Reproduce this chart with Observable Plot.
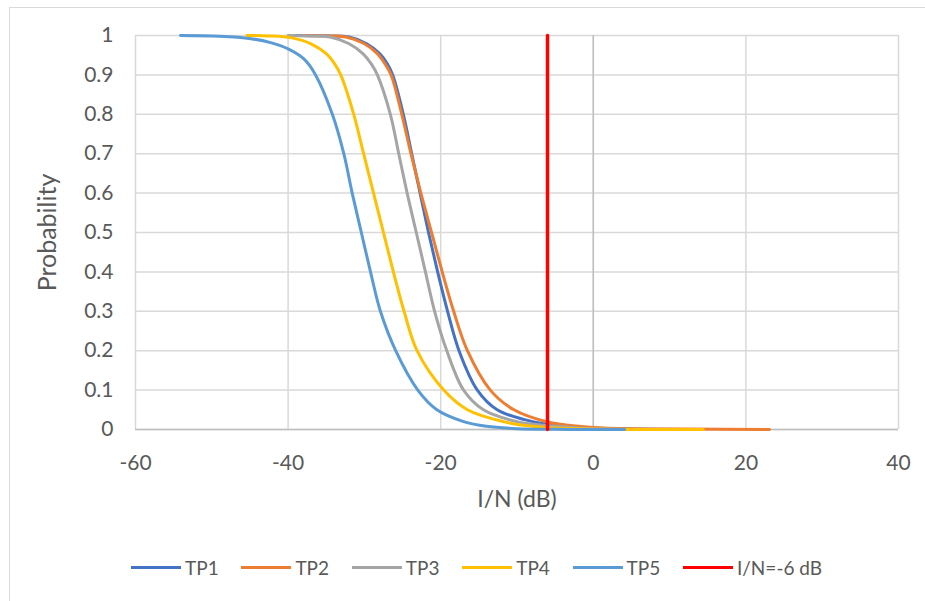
<!DOCTYPE html>
<html>
<head>
<meta charset="utf-8">
<script src="https://cdn.jsdelivr.net/npm/d3@7"></script>
<script src="https://cdn.jsdelivr.net/npm/@observablehq/plot@0.6"></script>
<style>
  html, body { margin: 0; padding: 0; background: #fff; }
  #wrap { position: relative; width: 925px; height: 601px; overflow: hidden; font-family: Lato, "Open Sans", sans-serif; }
  #frame { position: absolute; left: 9px; top: 7px; width: 930px; height: 620px; border-left: 1.5px solid #D9D9D9; border-top: 1.5px solid #D9D9D9; box-sizing: border-box; }
  #chart { position: absolute; left: 0; top: 0; }
  #legend { position: absolute; left: 131px; top: 556px; display: flex; align-items: center; color: #595959; font-size: 19px; white-space: nowrap; }
  .item { display: flex; align-items: center; width: 110.4px; flex: none; }
  .item:last-child { width: auto; }
  .swatch { width: 50px; height: 3px; margin-right: 4px; flex: none; }
</style>
</head>
<body>
<div id="wrap">
  <div id="frame"></div>
  <div id="chart"></div>
  <div id="legend"></div>
</div>
<script>
// I/N (dB) and probability readings per series
const tp1X = [-39, -34.5, -32, -29.7, -28.0, -27.0, -26.3, -24.9, -23.8, -22.7, -21.6, -20.4, -19.1, -17.6, -15.2, -12.6, -9, -6, -3, 0, 5, 12];
const tp1Y = [1, 0.999, 0.996, 0.979, 0.954, 0.928, 0.9, 0.8, 0.7, 0.6, 0.5, 0.4, 0.3, 0.2, 0.1, 0.05, 0.025, 0.013, 0.007, 0.003, 0.001, 0];

const tp2X = [-38, -34.8, -32.4, -30.0, -28.3, -27.3, -26.5, -25.1, -23.9, -22.6, -21.2, -19.8, -18.3, -16.5, -13.5, -10.4, -6, -3, 0, 5, 12, 23.1];
const tp2Y = [1, 0.999, 0.996, 0.979, 0.954, 0.928, 0.9, 0.8, 0.7, 0.6, 0.5, 0.4, 0.3, 0.2, 0.1, 0.05, 0.019, 0.01, 0.005, 0.002, 0.001, 0];

const tp3X = [-40, -37, -34.5, -32.0, -30.2, -29.1, -28.3, -26.6, -25.5, -24.4, -23.2, -22.0, -20.8, -19.2, -17.0, -14.4, -10, -6, -2, 2, 10];
const tp3Y = [1, 0.999, 0.996, 0.979, 0.954, 0.928, 0.9, 0.8, 0.7, 0.6, 0.5, 0.4, 0.3, 0.2, 0.1, 0.05, 0.02, 0.01, 0.004, 0.001, 0];

const tp4X = [-45.4, -42.5, -39.5, -37.0, -35.0, -33.9, -33.1, -31.4, -30.1, -28.8, -27.5, -26.2, -24.8, -23.1, -19.6, -16.5, -11.8, -8, -4, 0, 4, 14.4];
const tp4Y = [1, 0.999, 0.994, 0.979, 0.954, 0.928, 0.9, 0.8, 0.7, 0.6, 0.5, 0.4, 0.3, 0.2, 0.1, 0.05, 0.02, 0.008, 0.003, 0.001, 0, 0];

const tp5X = [-54.1, -49, -44.9, -42.3, -40, -37.9, -36.4, -34.2, -32.7, -31.6, -30.4, -29.2, -27.9, -25.9, -23.0, -20.5, -17, -14, -10, -5, 0, 4.1];
const tp5Y = [1, 0.998, 0.992, 0.982, 0.966, 0.94, 0.9, 0.8, 0.7, 0.6, 0.5, 0.4, 0.3, 0.2, 0.1, 0.05, 0.02, 0.008, 0.002, 0.0005, 0, 0];

const thresholdX = [-6, -6];
const thresholdY = [0, 1];

const seriesNames = ["TP1", "TP2", "TP3", "TP4", "TP5", "I/N=-6 dB"];
const seriesColors = ["#4472C4", "#ED7D31", "#A5A5A5", "#FFC000", "#5B9BD5", "#FF0000"];

const xTicks = [-60, -40, -20, 0, 20, 40];
const yTicks = [0, 0.1, 0.2, 0.3, 0.4, 0.5, 0.6, 0.7, 0.8, 0.9, 1];

const xs = [tp1X, tp2X, tp3X, tp4X, tp5X];
const ys = [tp1Y, tp2Y, tp3Y, tp4Y, tp5Y];
const rows = [];
xs.forEach((arr, i) => arr.forEach((x, j) => rows.push({series: seriesNames[i], x, y: ys[i][j]})));
const redRows = thresholdX.map((x, j) => ({x, y: thresholdY[j]}));

const textColor = "#595959";
const chart = Plot.plot({
  width: 925,
  height: 530,
  marginLeft: 135,
  marginRight: 27,
  marginTop: 35,
  marginBottom: 101,
  style: { fontFamily: "Lato, 'Open Sans', sans-serif", fontSize: "21px", color: textColor, background: "transparent" },
  x: { domain: [-60, 40] },
  y: { domain: [0, 1] },
  color: { domain: seriesNames, range: seriesColors },
  marks: [
    Plot.gridY(yTicks, { stroke: "#D9D9D9", strokeOpacity: 1, strokeWidth: 1.5 }),
    Plot.gridX(xTicks, { stroke: "#D9D9D9", strokeOpacity: 1, strokeWidth: 1.5 }),
    Plot.ruleX([0], { stroke: "#BFBFBF", strokeWidth: 1.5 }),
    Plot.ruleY([0], { stroke: "#BFBFBF", strokeWidth: 1.5 }),
    Plot.axisX({ ticks: xTicks, tickFormat: d => String(d), tickSize: 0, tickPadding: 26, fontSize: 21, label: null }),
    Plot.axisX({ ticks: [], label: "I/N (dB)", labelAnchor: "center", labelArrow: "none", labelOffset: 77, fontSize: 23 }),
    Plot.axisY({ ticks: yTicks, tickFormat: d => String(d), tickSize: 0, tickPadding: 22, fontSize: 21, label: null }),
    Plot.axisY({ ticks: [], label: "Probability", labelAnchor: "center", labelArrow: "none", labelOffset: 97, fontSize: 25 }),
    Plot.line(rows, { x: "x", y: "y", z: "series", stroke: "series", strokeWidth: 3, curve: "catmull-rom" }),
    Plot.line(redRows, { x: "x", y: "y", stroke: () => "I/N=-6 dB", strokeWidth: 3.5 })
  ]
});
document.getElementById("chart").appendChild(chart);

const legend = document.getElementById("legend");
seriesNames.forEach((name, i) => {
  const item = document.createElement("div");
  item.className = "item";
  const sw = document.createElement("div");
  sw.className = "swatch";
  sw.style.background = seriesColors[i];
  const t = document.createElement("span");
  t.textContent = name;
  item.appendChild(sw);
  item.appendChild(t);
  legend.appendChild(item);
});
</script>
</body>
</html>
